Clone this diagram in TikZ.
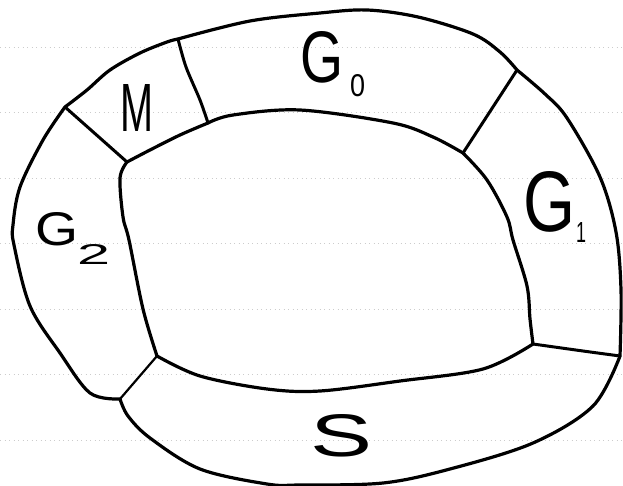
\documentclass[tikz,border=0pt]{standalone}
\usepackage{fontspec}
\usepackage{graphicx}
\setmainfont{Liberation Sans}
\tikzset{
  paperline/.style={gray!40, line width=0.6pt, dash pattern=on 1pt off 3.5pt},
  outline/.style={black, line width=3.2pt, line join=round, line cap=round},
  divider/.style={black, line width=3pt, line cap=round},
  thindivider/.style={black, line width=2.2pt, line cap=round},
  letter/.style={inner sep=0pt, outer sep=0pt, anchor=base west, text=black}
}
\begin{document}
\begin{tikzpicture}[x=1pt, y=-1pt]
\useasboundingbox (0,0) rectangle (623,486);
\fill[white] (0,0) rectangle (623,486);
% notebook paper lines
\foreach \yy in {47,112.5,178,243.5,309,374.5,440}
  \draw[paperline] (0,\yy) -- (623,\yy);
% corners of the outer boundary
\coordinate (oMG0) at (178,39);
\coordinate (oG0G1) at (517,70);
\coordinate (oG1S) at (620,356);
\coordinate (oSG2) at (120,399);
\coordinate (oMG2) at (65,107);
% corners of the inner boundary
\coordinate (iMG0) at (208,123);
\coordinate (iG0G1) at (463,153);
\coordinate (iG1S) at (533,344);
\coordinate (iSG2) at (157,356);
\coordinate (iMG2) at (127,162);
% outer boundary
\draw[outline]
  plot[smooth, tension=0.55] coordinates {(oMG0) (250,21) (320,13) (367,10) (418,17) (473,34) (500,52) (oG0G1)}
  -- plot[smooth, tension=0.55] coordinates {(oG0G1) (545,94) (567,118) (600,177) (616,232) (621,290) (oG1S)}
  -- plot[smooth, tension=0.55] coordinates {(oG1S) (593,406) (533,443) (450,469) (383,483) (300,485) (267,484) (200,469) (150,438) (128,416) (oSG2)}
  -- plot[smooth, tension=0.55] coordinates {(oSG2) (90,393) (60,353) (30,306) (14,245) (13,225) (20,187) (43,140) (oMG2)}
  -- plot[smooth, tension=0.55] coordinates {(oMG2) (87,90) (110,70) (140,53) (167,42) (oMG0)};
% inner boundary
\draw[outline]
  plot[smooth, tension=0.55] coordinates {(iMG2) (150,150) (180,135) (iMG0)}
  -- plot[smooth, tension=0.55] coordinates {(iMG0) (233,115) (300,110) (393,123) (433,137) (iG0G1)}
  -- plot[smooth, tension=0.55] coordinates {(iG0G1) (487,180) (507,217) (513,240) (527,286) (530,319) (iG1S)}
  -- plot[smooth, tension=0.55] coordinates {(iG1S) (483,369) (400,381) (320,391) (267,389) (200,376) (iSG2)}
  -- plot[smooth, tension=0.55] coordinates {(iSG2) (143,309) (129,240) (123,217) (120,178) (iMG2)};
% dividers
\draw[divider] (oMG2) -- (iMG2);
\draw[divider] plot[smooth] coordinates {(oMG0) (186,67) (200,100) (iMG0)};
\draw[divider] (oG0G1) -- (iG0G1);
\draw[divider] plot[smooth] coordinates {(iG1S) (583,351) (oG1S)};
\draw[thindivider] (iSG2) -- (oSG2);
% labels
\node[letter] (labM) at (120,132) {\resizebox{33pt}{47pt}{M}};
\node[letter] (labG0) at (300,83) {\resizebox{43pt}{51pt}{G}\hspace{7pt}\raisebox{-14pt}{\resizebox{15pt}{22pt}{0}}};
\node[letter] (labG1) at (523,232) {\resizebox{52pt}{60pt}{G}\hspace{1pt}\raisebox{-10pt}{\resizebox{10pt}{20pt}{1}}};
\node[letter] (labG2) at (35,245) {\resizebox{43pt}{33pt}{G}\hspace{-1pt}\raisebox{-20pt}{\resizebox{33pt}{20pt}{2}}};
\node[letter] (labS) at (310,456) {\resizebox{62pt}{42pt}{S}};
\end{tikzpicture}
\end{document}
